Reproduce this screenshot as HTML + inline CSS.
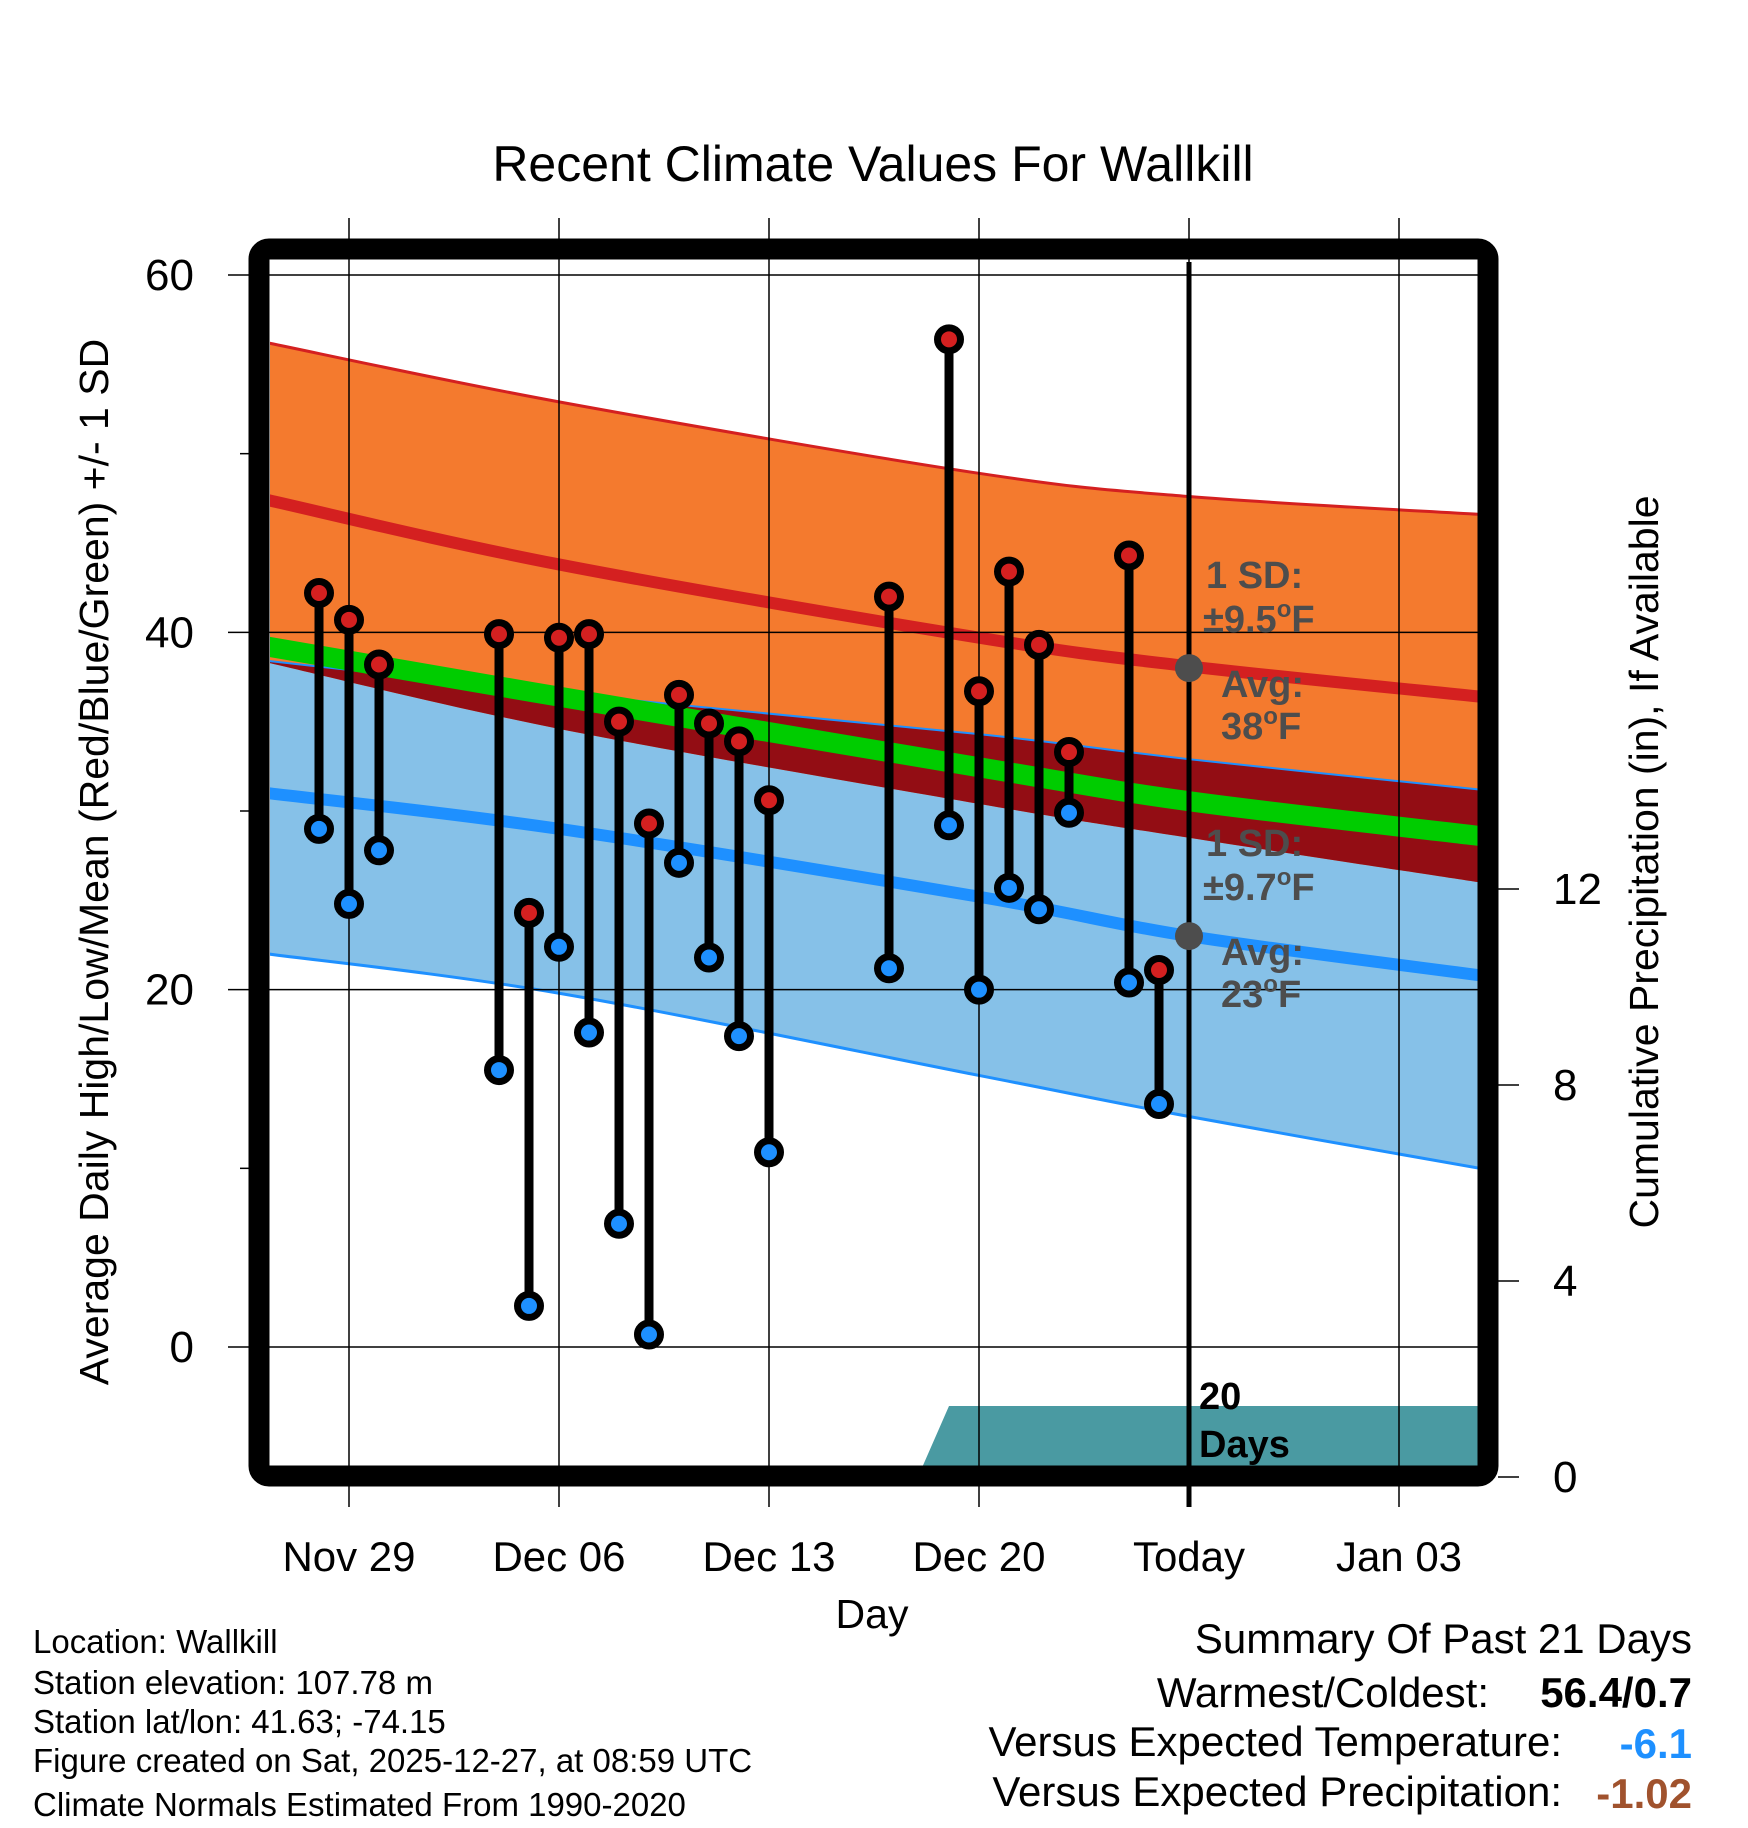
<!DOCTYPE html>
<html><head><meta charset="utf-8"><style>
html,body{margin:0;padding:0;background:#fff;}
svg{display:block;font-family:"Liberation Sans",sans-serif;}
</style></head><body>
<svg id="chart" width="1748" height="1828" viewBox="0 0 1748 1828" xmlns="http://www.w3.org/2000/svg">
<defs><clipPath id="plotclip"><rect x="270" y="260" width="1208" height="1206"/></clipPath></defs>
<g id="fills" clip-path="url(#plotclip)"></g>
<g id="grid"></g>
<g id="marks"></g>
<rect x="259" y="249" width="1229" height="1227" rx="10" fill="none" stroke="#000" stroke-width="21"/>
<g id="axes"></g>
<text x="873" y="181" font-size="50" text-anchor="middle">Recent Climate Values For Wallkill</text>
<text transform="translate(108,862) rotate(-90)" font-size="41" text-anchor="middle">Average Daily High/Low/Mean (Red/Blue/Green) +/- 1 SD</text>
<text transform="translate(1658,862) rotate(-90)" font-size="41" text-anchor="middle">Cumulative Precipitation (in), If Available</text>
<text x="872" y="1628" font-size="41" text-anchor="middle">Day</text>
<g font-size="33">
<text x="33" y="1653">Location: Wallkill</text>
<text x="33" y="1694">Station elevation: 107.78 m</text>
<text x="33" y="1733">Station lat/lon: 41.63; -74.15</text>
<text x="33" y="1772">Figure created on Sat, 2025-12-27, at 08:59 UTC</text>
<text x="33" y="1816">Climate Normals Estimated From 1990-2020</text>
</g>
<g font-size="42">
<text x="1692" y="1653" text-anchor="end">Summary Of Past 21 Days</text>
<text x="1489" y="1707" text-anchor="end">Warmest/Coldest:</text>
<text x="1692" y="1707" text-anchor="end" font-weight="bold">56.4/0.7</text>
<text x="1562" y="1756" text-anchor="end">Versus Expected Temperature:</text>
<text x="1692" y="1758" text-anchor="end" font-weight="bold" fill="#1e90ff">-6.1</text>
<text x="1562" y="1806" text-anchor="end">Versus Expected Precipitation:</text>
<text x="1692" y="1808" text-anchor="end" font-weight="bold" fill="#a0522d">-1.02</text>
</g>
</svg>
<script>
// ---- data ----
const obsDays = [-1,0,1,5,6,7,8,9,10,11,12,13,14,18,20,21,22,23,24,26,27];
const highs = [42.2,40.7,38.2,39.9,24.3,39.7,39.9,35.0,29.3,36.5,34.9,33.9,30.6,42.0,56.4,36.7,43.4,39.3,33.3,44.3,21.1];
const lows = [29.0,24.8,27.8,15.5,2.3,22.4,17.6,6.9,0.7,27.1,21.8,17.4,10.9,21.2,29.2,20.0,25.7,24.5,29.9,20.4,13.6];
const normDays = [-2.7,7,21,28,37.7];
const highUpper = [56.2,52.9,48.9,47.6,46.6];
const highMean = [47.4,43.8,39.7,38.1,36.4];
const highLower = [38.3,34.6,30.4,28.5,26.0];
const lowUpper = [38.4,36.6,34.3,32.9,31.2];
const lowMean = [31.0,29.0,25.2,23.0,20.8];
const lowLower = [22.0,19.8,15.2,12.9,10.0];
const precipDays = [-2.7,13.2,19.0,20.0,37.7];
const precipVals = [0,0.02,0.05,1.45,1.45];
const xTickDays = [0,7,14,21,28,35];
const xTickLabels = ["Nov 29","Dec 06","Dec 13","Dec 20","Today","Jan 03"];
const yTicks = [0,20,40,60];
const yMinor = [10,30,50];
const pTicks = [0,4,8,12];

// ---- scales ----
const X = d => 349 + d*30;
const Y = v => 1347 - v*(1072/60);
const P = v => 1477 - v*49;
const NS = "http://www.w3.org/2000/svg";
function mk(tag, attrs, parent){const e=document.createElementNS(NS,tag);for(const k in attrs)e.setAttribute(k,attrs[k]);parent.appendChild(e);return e;}
const fills=document.getElementById('fills'), grid=document.getElementById('grid'), marks=document.getElementById('marks'), axes=document.getElementById('axes');
// smooth path (Catmull-Rom -> Bezier) through data points
function smooth(days, vals, reverse){
  let p = days.map((d,i)=>[X(d),Y(vals[i])]);
  if(reverse) p = p.reverse();
  let s = '';
  for(let i=0;i<p.length-1;i++){
    const p0=p[i-1]||p[i], p1=p[i], p2=p[i+1], p3=p[i+2]||p2;
    const c1=[p1[0]+(p2[0]-p0[0])/6, p1[1]+(p2[1]-p0[1])/6];
    const c2=[p2[0]-(p3[0]-p1[0])/6, p2[1]-(p3[1]-p1[1])/6];
    s += ' C'+c1.join(',')+' '+c2.join(',')+' '+p2.join(',');
  }
  return {start:p[0], segs:s};
}
function band(upper, lower, color, name){
  const a = smooth(normDays, upper, false), b = smooth(normDays, lower, true);
  const d = 'M'+a.start.join(',')+a.segs+' L'+b.start.join(',')+b.segs+' Z';
  const e = mk('path',{d:d,fill:color},fills);
  
  
}
function line(vals,color,w,name){
  const a = smooth(normDays, vals, false);
  const e=mk('path',{d:'M'+a.start.join(',')+a.segs,fill:'none',stroke:color,'stroke-width':w},fills);
  
  
}
band(lowUpper, lowLower, '#86c1e8', 'low-sd-band');
band(highUpper, highLower, '#f47a2e', 'high-sd-band');
band(lowUpper, highLower, '#930d14', 'overlap-band');
line(lowUpper,'#1e90ff',2,'low-upper-line');
line(lowLower,'#1e90ff',3,'low-lower-line');
line(highUpper,'#d42020',3,'high-upper-line');
line(highMean,'#d42020',12,'avg-high-line');
line(lowMean,'#1e90ff',12,'avg-low-line');
line(highMean.map((h,i)=>(h+lowMean[i])/2),'#00cc00',20,'avg-mean-line');
// precipitation
{
  const p = precipDays.map((d,i)=>X(d)+','+P(precipVals[i]));
  p.push(X(precipDays[precipDays.length-1])+','+P(0)); p.push(X(precipDays[0])+','+P(0));
  const e=mk('polygon',{points:p.join(' '),fill:'#4a9aa2'},fills);
  
  
}
// grid
xTickDays.forEach((d,i)=>{
  if(xTickLabels[i]==='Today'){
    const e=mk('line',{x1:X(d),x2:X(d),y1:262,y2:1507,stroke:'#000','stroke-width':5},grid);
    
    
    mk('line',{x1:X(d),x2:X(d),y1:218,y2:262,stroke:'#000','stroke-width':1.5},grid);
  } else {
    const e=mk('line',{x1:X(d),x2:X(d),y1:218,y2:1507,stroke:'#000','stroke-width':1.5},grid);
    
    
  }
  const t=mk('text',{x:X(d),y:1571,'font-size':42,'text-anchor':'middle'},axes);
  t.textContent=xTickLabels[i];
  
  
});
yTicks.forEach(v=>{
  const e=mk('line',{x1:228,x2:1478,y1:Y(v),y2:Y(v),stroke:'#000','stroke-width':1.5},grid);
  
  
  const t=mk('text',{x:194,y:Y(v)+15,'font-size':44,'text-anchor':'end'},axes);
  t.textContent=v;
  
  
});
yMinor.forEach(v=>{
  const e=mk('line',{x1:240,x2:250,y1:Y(v),y2:Y(v),stroke:'#000','stroke-width':1.5},axes);
  
  
});
pTicks.forEach(v=>{
  const e=mk('line',{x1:1498,x2:1519,y1:P(v),y2:P(v),stroke:'#000','stroke-width':1.5},axes);
  
  
  const t=mk('text',{x:1553,y:P(v)+15,'font-size':44},axes);
  t.textContent=v;
  
  
});
// observations
obsDays.forEach((d,i)=>{
  const s=mk('line',{x1:X(d),x2:X(d),y1:Y(highs[i]),y2:Y(lows[i]),stroke:'#000','stroke-width':9},marks);
  
  
  const h=mk('circle',{cx:X(d),cy:Y(highs[i]),r:11.5,fill:'#d42020',stroke:'#000','stroke-width':7},marks);
  
  
  const l=mk('circle',{cx:X(d),cy:Y(lows[i]),r:11.5,fill:'#1e90ff',stroke:'#000','stroke-width':7},marks);
  
  
});
// today annotations
const todayHigh = 38, todayLow = 23;
[[todayHigh,'±9.5'],[todayLow,'±9.7']].forEach(([v,sd])=>{
  const cy=Y(v);
  const c=mk('circle',{cx:X(28),cy:cy,r:14,fill:'#4d4d4d'},marks);
  
  
  const g=mk('g',{fill:'#4d4d4d','font-size':38,'font-weight':'bold'},marks);
  
  
  const a=mk('text',{x:1206,y:cy-80},g); a.textContent='1 SD:';
  const b=mk('text',{x:1203,y:cy-36},g); b.innerHTML=sd+'<tspan font-size="24" dy="-15">o</tspan><tspan dy="15">F</tspan>';
  const c2=mk('text',{x:1221,y:cy+29},g); c2.textContent='Avg:';
  const d=mk('text',{x:1221,y:cy+71},g); d.innerHTML=v+'<tspan font-size="24" dy="-15">o</tspan><tspan dy="15">F</tspan>';
});
{
  const g=mk('g',{fill:'#000','font-size':38,'font-weight':'bold'},marks);
  
  
  const a=mk('text',{x:1199,y:1409},g); a.textContent='20';
  const b=mk('text',{x:1199,y:1457},g); b.textContent='Days';
}
</script>
</body></html>
